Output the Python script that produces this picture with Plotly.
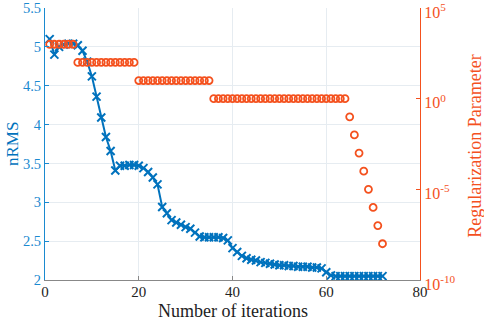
import plotly.graph_objects as go

iterations = list(range(1, 73))
nrms = [5.10, 4.90, 5.00, 5.03, 5.04, 5.04, 5.02, 4.95, 4.81, 4.62,
        4.36, 4.09, 3.84, 3.66, 3.41, 3.47, 3.47, 3.48, 3.48, 3.47,
        3.44, 3.39, 3.32, 3.23, 2.94, 2.86, 2.77, 2.74, 2.71, 2.68,
        2.66, 2.61, 2.56, 2.55, 2.55, 2.55, 2.55, 2.54, 2.51, 2.41,
        2.36, 2.31, 2.28, 2.26, 2.25, 2.23, 2.22, 2.21, 2.20, 2.19,
        2.19, 2.18, 2.18, 2.17, 2.17, 2.17, 2.16, 2.16, 2.15, 2.10,
        2.06, 2.05, 2.05, 2.05, 2.05, 2.05, 2.05, 2.05, 2.05, 2.05,
        2.05, 2.05]
reg_param = ([1e3] * 6 + [1e2] * 13 + [1e1] * 16 + [1e0] * 29 +
             [1e-1, 1e-2, 1e-3, 1e-4, 1e-5, 1e-6, 1e-7, 1e-8])

x_ticks = [0, 20, 40, 60, 80]
y_ticks = [2, 2.5, 3, 3.5, 4, 4.5, 5, 5.5]
y_ticktext = ["2", "2.5", "3", "3.5", "4", "4.5", "5", "5.5"]
y2_ticks = [1e-10, 1e-5, 1e0, 1e5]
y2_ticktext = ["10<sup>-10</sup>", "10<sup>-5</sup>", "10<sup>0</sup>", "10<sup>5</sup>"]
x_title = "Number of iterations"
y_title = "nRMS"
y2_title = "Regularization Parameter"

BLUE = "#0072BD"
BLUE_TXT = "#1A8AD0"
ORANGE = "#F4511E"
FONT = "Liberation Serif"
GRID = "#E6ECF1"

fig = go.Figure()
fig.add_trace(go.Scatter(
    x=iterations, y=nrms, mode="lines+markers",
    line=dict(color=BLUE, width=2),
    marker=dict(symbol="x-thin-open", size=8, line=dict(color=BLUE, width=2)),
    yaxis="y", showlegend=False))
fig.add_trace(go.Scatter(
    x=iterations, y=reg_param, mode="markers",
    marker=dict(symbol="circle-open", size=7, color=ORANGE, line=dict(color=ORANGE, width=1.8)),
    yaxis="y2", showlegend=False))

fig.update_layout(
    width=484, height=322,
    margin=dict(l=45, r=64, t=8, b=42, autoexpand=False),
    paper_bgcolor="white", plot_bgcolor="white",
    font=dict(family=FONT, size=15, color="#222"),
    xaxis=dict(range=[0, 80], tickvals=x_ticks, showgrid=True, gridcolor=GRID, gridwidth=1,
               zeroline=False, showline=True, linecolor="#888", linewidth=1, automargin=False,
               ticks="inside", ticklen=4, tickcolor="#888", ticklabeloverflow="allow",
               ticklabelstandoff=-2,
               tickfont=dict(family=FONT, size=15, color="#222")),
    yaxis=dict(range=[2, 5.5], tickvals=y_ticks, ticktext=y_ticktext, showgrid=True,
               gridcolor=GRID, zeroline=False, showline=True, linecolor=BLUE_TXT, linewidth=1,
               ticks="inside", ticklen=4, tickcolor=BLUE_TXT, ticklabeloverflow="allow",
               automargin=False,
               tickfont=dict(family=FONT, size=14.5, color=BLUE_TXT)),
    yaxis2=dict(type="log", range=[-10, 5], overlaying="y", side="right",
                tickvals=y2_ticks, ticktext=y2_ticktext, showgrid=False, zeroline=False,
                showline=True, linecolor=ORANGE, linewidth=1, ticklabeloverflow="allow",
                ticks="inside", ticklen=4, tickcolor=ORANGE, automargin=False,
                ticklabelshift=4,
                tickfont=dict(family=FONT, size=16, color=ORANGE)),
    annotations=[
        dict(text=x_title, xref="paper", yref="paper", x=0.5, y=-31 / 272,
             xanchor="center", yanchor="middle", showarrow=False,
             font=dict(family=FONT, size=18, color="#222")),
        dict(text=y_title, xref="paper", yref="paper", x=(12 - 45) / 375, y=0.5,
             xanchor="center", yanchor="middle", showarrow=False, textangle=-90,
             font=dict(family=FONT, size=17, color=BLUE)),
        dict(text=y2_title, xref="paper", yref="paper", x=(475 - 45) / 375, y=0.49,
             xanchor="center", yanchor="middle", showarrow=False, textangle=-90,
             font=dict(family=FONT, size=18, color=ORANGE)),
    ],
)

fig.write_html("out.html", config={"displayModeBar": False},
               post_script="document.body.style.margin='0';")
